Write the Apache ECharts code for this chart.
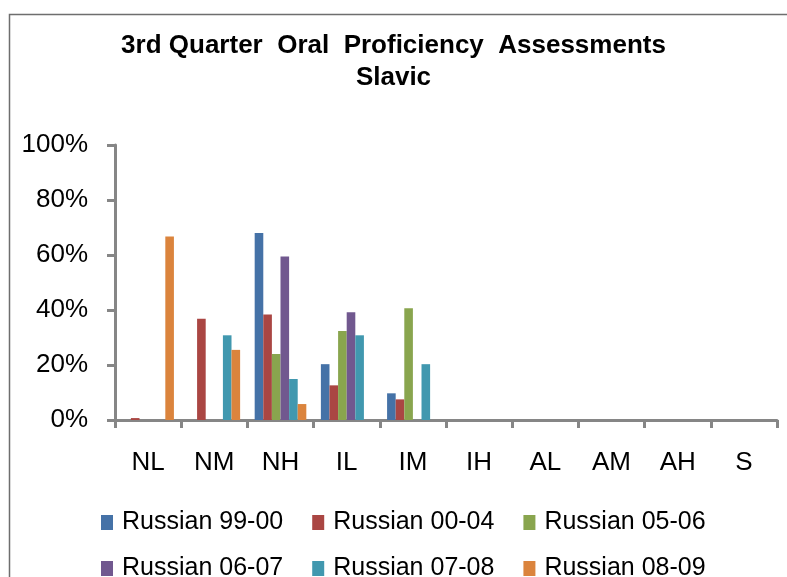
<!DOCTYPE html>
<html>
<head>
<meta charset="utf-8">
<script src="https://cdn.jsdelivr.net/npm/echarts@6/dist/echarts.min.js"></script>
<style>html,body{margin:0;padding:0;background:#fff;}#c{width:787px;height:577px;}</style>
</head>
<body>
<div id="c"></div>
<script>
var categories = ['NL','NM','NH','IL','IM','IH','AL','AM','AH','S'];
var seriesNames = ['Russian 99-00','Russian 00-04','Russian 05-06','Russian 06-07','Russian 07-08','Russian 08-09'];
var r9900 = [0, 0, 68, 20.3, 9.7, 0, 0, 0, 0, 0];
var r0004 = [0.7, 36.8, 38.4, 12.6, 7.5, 0, 0, 0, 0, 0];
var r0506 = [0, 0, 24, 32.4, 40.6, 0, 0, 0, 0, 0];
var r0607 = [0, 0, 59.5, 39.2, 0, 0, 0, 0, 0, 0];
var r0708 = [0, 30.8, 14.9, 30.8, 20.3, 0, 0, 0, 0, 0];
var r0809 = [66.7, 25.5, 5.8, 0, 0, 0, 0, 0, 0, 0];
var yTicks = [0, 20, 40, 60, 80, 100];
var colors = ['#4572A7','#AA4643','#89A54E','#71588F','#4198AF','#DB843D'];
var allData = [r9900, r0004, r0506, r0607, r0708, r0809];

var font = "'Liberation Sans', Arial, Helvetica, sans-serif";
var chart = echarts.init(document.getElementById('c'), null, {renderer: 'canvas'});
var series = seriesNames.map(function(n, i){
  return {
    name: n, type: 'bar', data: allData[i],
    barGap: '0%', barCategoryGap: '22%',
    itemStyle: {color: colors[i]},
    emphasis: {disabled: true}
  };
});
var legendCommon = {
  icon: 'rect', itemWidth: 12, itemHeight: 15, itemGap: 29, left: 101, padding: 0,
  textStyle: {fontFamily: font, fontSize: 25, color: '#000', padding: [0,0,0,4]},
  selectedMode: false
};
chart.setOption({
  animation: false,
  color: colors,
  title: {
    text: '3rd Quarter  Oral  Proficiency  Assessments\nSlavic',
    left: 'center', top: 25,
    textStyle: {fontFamily: font, fontSize: 26, fontWeight: 'bold', color: '#000', lineHeight: 32}
  },
  graphic: [{
    type: 'rect', left: 7, top: 12,
    shape: {width: 1500, height: 1500},
    style: {fill: 'none', stroke: '#6e6e6e', lineWidth: 1.5},
    silent: true
  }],
  legend: [
    Object.assign({}, legendCommon, {data: seriesNames.slice(0,3), top: 510}),
    Object.assign({}, legendCommon, {data: seriesNames.slice(3,6), top: 556})
  ],
  grid: {left: 115, right: 10, top: 145, bottom: 157, containLabel: false},
  xAxis: {
    type: 'category', data: categories,
    axisLine: {lineStyle: {color: '#868686', width: 3}},
    axisTick: {show: true, length: 8, lineStyle: {color: '#868686', width: 3}},
    axisLabel: {fontFamily: font, fontSize: 26, color: '#000', margin: 30}
  },
  yAxis: {
    type: 'value', min: yTicks[0], max: yTicks[yTicks.length-1], interval: 20,
    axisLine: {show: true, lineStyle: {color: '#868686', width: 3}},
    axisTick: {show: true, length: 8, lineStyle: {color: '#868686', width: 3}},
    splitLine: {show: false},
    axisLabel: {fontFamily: font, fontSize: 26, color: '#000', margin: 27, formatter: '{value}%'}
  },
  series: series
});
</script>
</body>
</html>
